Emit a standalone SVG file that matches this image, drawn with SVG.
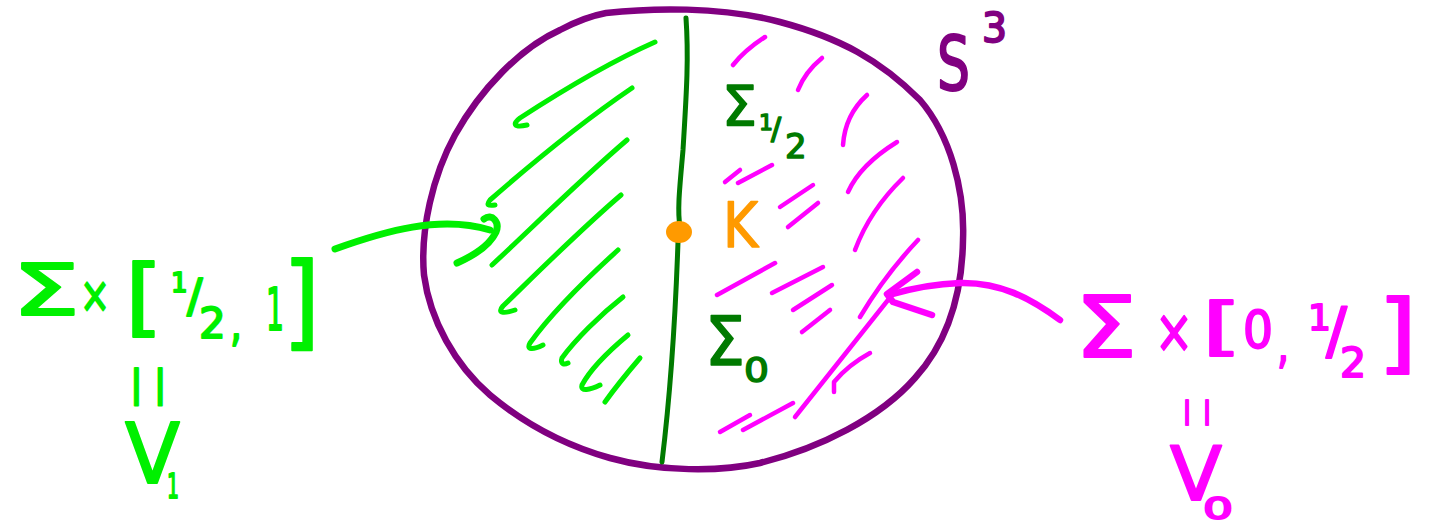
<svg xmlns="http://www.w3.org/2000/svg" width="1434" height="525" viewBox="0 0 1434 525">
<style>
.t{font-family:"DejaVu Sans","Liberation Sans",sans-serif;stroke-linejoin:round;}
.lg{fill:#00F000;stroke:#00F000;stroke-width:2;}
.mg{fill:#FF00FF;stroke:#FF00FF;stroke-width:2;}
.dg{fill:#007A00;stroke:#007A00;stroke-width:1.5;}
.pu{fill:#800080;stroke:#800080;stroke-width:2;}
.or{fill:#FF9A00;stroke:#FF9A00;stroke-width:1.5;}
.hg{fill:none;stroke:#00F000;stroke-width:5;stroke-linecap:round;stroke-linejoin:round;}
.hm{fill:none;stroke:#FF00FF;stroke-width:4.5;stroke-linecap:round;stroke-linejoin:round;}
.arr-g{fill:none;stroke:#00F000;stroke-width:7;stroke-linecap:round;stroke-linejoin:round;}
.arr-m{fill:none;stroke:#FF00FF;stroke-width:6.5;stroke-linecap:round;stroke-linejoin:round;}
</style>
<rect width="1434" height="525" fill="#FFFFFF"/>

<g id="sphere">
<path d="M606,13 C650,8 720,6 780,22 C840,38 880,60 920,100 C950,135 965,190 963,240 C962,300 945,345 915,378 C880,418 820,448 760,463 C720,472 660,472 610,458 C560,444 520,420 490,395 C455,365 430,320 424,275 C420,230 433,175 455,135 C480,90 520,48 560,30 C575,22 590,16 606,13 Z" fill="none" stroke="#800080" stroke-width="6.5" stroke-linejoin="round"/>
<text class="t pu" x="937" y="90" font-size="75" textLength="33" lengthAdjust="spacingAndGlyphs">S</text>
<text class="t pu" x="982" y="42" font-size="41" textLength="25" lengthAdjust="spacingAndGlyphs">3</text>
</g>

<g id="hatch-V1">
<path class="hg" d="M655,42 C610,62 560,92 520,118 C512,124 514,128 527,125"/>
<path class="hg" d="M632,88 C585,120 530,165 490,200 C486,205 488,206 495,205"/>
<path class="hg" d="M627,140 C580,180 535,225 492,265"/>
<path class="hg" d="M621,195 C580,230 535,275 503,306 C497,313 503,314 515,310"/>
<path class="hg" d="M618,250 C585,280 550,315 530,343 C526,350 533,350 543,345"/>
<path class="hg" d="M623,297 C600,315 575,340 562,358 C560,364 564,365 568,363"/>
<path class="hg" d="M628,335 C610,350 590,370 582,385 C580,392 590,390 600,385"/>
<path class="hg" d="M640,358 C628,372 615,388 605,402"/>
</g>

<g id="hatch-V0">
<path class="hm" d="M765,37 Q745,50 733,65"/>
<path class="hm" d="M822,58 Q805,72 798,90"/>
<path class="hm" d="M867,95 Q845,115 843,145"/>
<path class="hm" d="M897,142 Q860,165 848,192"/>
<path class="hm" d="M903,178 Q870,210 855,250"/>
<path class="hm" d="M918,240 Q885,275 860,317"/>
<path class="hm" d="M888,300 Q840,360 795,417"/>
<path class="hm" d="M870,353 Q848,365 834,382 L834,392"/>
<path class="hm" d="M772,165 L738,183"/>
<path class="hm" d="M740,170 L725,182"/>
<path class="hm" d="M813,185 L780,207"/>
<path class="hm" d="M818,203 L788,227"/>
<path class="hm" d="M775,263 L717,295"/>
<path class="hm" d="M823,267 L772,293"/>
<path class="hm" d="M832,285 L793,310"/>
<path class="hm" d="M830,310 L802,332"/>
<path class="hm" d="M793,403 L743,430"/>
<path class="hm" d="M750,415 L720,432"/>
</g>

<g id="surface">
<path d="M686,18 C689,60 686,100 683,150 C680,185 677,210 680,226" fill="none" stroke="#007A00" stroke-width="5" stroke-linecap="round"/>
<path d="M678,242 C676,300 672,380 662,462" fill="none" stroke="#007A00" stroke-width="5" stroke-linecap="round"/>
<text class="t dg" x="722" y="125" font-size="55" textLength="35" lengthAdjust="spacingAndGlyphs">Σ</text>
<text class="t dg" x="759" y="130" font-size="22">1<tspan x="771" y="139" font-size="30">/</tspan><tspan x="785" y="158" font-size="34">2</tspan></text>
<text class="t dg" x="705" y="365" font-size="68" textLength="40" lengthAdjust="spacingAndGlyphs">Σ</text>
<text class="t dg" x="744" y="382" font-size="33" textLength="25" lengthAdjust="spacingAndGlyphs">0</text>
</g>

<g id="knot">
<ellipse cx="679" cy="232" rx="13" ry="11" fill="#FF9A00"/>
<text class="t or" x="723" y="247" font-size="62" textLength="35" lengthAdjust="spacingAndGlyphs">K</text>
</g>

<g id="label-V1">
<text class="t lg" x="12" y="315" font-size="72" textLength="68" lengthAdjust="spacingAndGlyphs">Σ</text>
<text class="t lg" x="80" y="312" font-size="50" textLength="30" lengthAdjust="spacingAndGlyphs">×</text>
<text class="t lg" x="125" y="326" font-size="86" textLength="38" lengthAdjust="spacingAndGlyphs">[</text>
<text class="t lg" x="171" y="292" font-size="26">1<tspan x="187" y="312" font-size="46">/</tspan><tspan x="199" y="338" font-size="42">2</tspan></text>
<text class="t lg" x="230" y="340" font-size="50" textLength="12" lengthAdjust="spacingAndGlyphs">,</text>
<text class="t lg" x="266" y="330" font-size="58" textLength="18" lengthAdjust="spacingAndGlyphs">1</text>
<text class="t lg" x="283" y="337" font-size="103" textLength="37" lengthAdjust="spacingAndGlyphs">]</text>
<text class="t lg" x="130" y="396" font-size="38" letter-spacing="11">||</text>
<text class="t lg" x="125" y="483" font-size="84" textLength="55" lengthAdjust="spacingAndGlyphs">V</text>
<text class="t lg" x="167" y="498" font-size="34" textLength="12" lengthAdjust="spacingAndGlyphs">1</text>
</g>

<g id="label-V0">
<text class="t mg" x="1075" y="357" font-size="85" textLength="62" lengthAdjust="spacingAndGlyphs">Σ</text>
<text class="t mg" x="1155" y="352" font-size="60" textLength="38" lengthAdjust="spacingAndGlyphs">×</text>
<text class="t mg" x="1202" y="347" font-size="62" textLength="40" lengthAdjust="spacingAndGlyphs">[</text>
<text class="t mg" x="1243" y="348" font-size="52" textLength="30" lengthAdjust="spacingAndGlyphs">0</text>
<text class="t mg" x="1277" y="362" font-size="50" textLength="12" lengthAdjust="spacingAndGlyphs">,</text>
<text class="t mg" x="1308" y="330" font-size="36">1<tspan x="1326" y="352" font-size="62">/</tspan><tspan x="1340" y="377" font-size="41">2</tspan></text>
<text class="t mg" x="1378" y="362" font-size="88" textLength="39" lengthAdjust="spacingAndGlyphs">]</text>
<text class="t mg" x="1183" y="419" font-size="24" letter-spacing="12">||</text>
<text class="t mg" x="1170" y="500" font-size="74" textLength="52" lengthAdjust="spacingAndGlyphs">V</text>
<text class="t mg" x="1203" y="519" font-size="31" textLength="30" lengthAdjust="spacingAndGlyphs">0</text>
</g>

<g id="connectors">
<path class="arr-g" d="M335,249 C385,231 440,215 490,230"/>
<path class="arr-g" d="M484,219 C492,213 500,222 496,232 C490,245 475,255 457,263"/>
<path class="arr-m" d="M1060,320 C1030,298 1000,282 960,283 C935,284 910,289 893,294"/>
<path class="arr-m" d="M917,272 L887,294 L893,302 L932,315"/>
</g>
</svg>
